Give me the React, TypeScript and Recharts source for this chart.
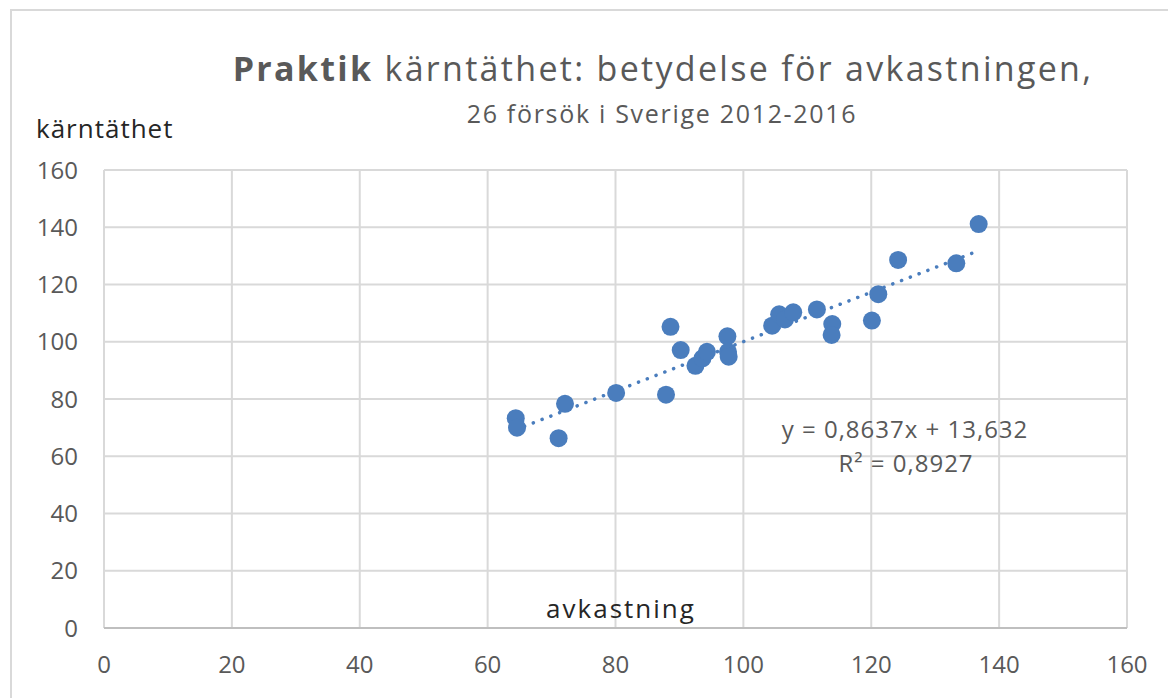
import { ScatterChart, Scatter, XAxis, YAxis, CartesianGrid, ReferenceLine } from 'recharts'

// avkastning (x) and kärntäthet (y) for the 26 trials
const avkastning = [64.4, 64.6, 71.1, 72.1, 80.1, 87.9, 88.6, 90.2, 92.5, 93.6, 94.3, 97.5, 97.6, 97.7, 104.5, 105.6, 106.5, 107.8, 111.5, 113.9, 113.8, 120.1, 121.1, 124.2, 133.3, 136.8]
const karntathet = [73.3, 70.0, 66.3, 78.3, 82.1, 81.5, 105.2, 97.1, 91.6, 94.2, 96.5, 101.9, 96.5, 94.8, 105.6, 109.6, 107.8, 110.3, 111.3, 106.2, 102.4, 107.4, 116.6, 128.6, 127.4, 141.1]

// linear trend endpoints (y = 0,8637x + 13,632)
const trendX = [64.4, 136.8]
const trendY = [69.3, 131.8]

const xTicks = [0, 20, 40, 60, 80, 100, 120, 140, 160]
const yTicks = [0, 20, 40, 60, 80, 100, 120, 140, 160]

const data = avkastning.map((x, i) => ({ x, y: karntathet[i] }))

const blue = '#4a7dbd'
const gray = '#595959'
const font = '"Open Sans", sans-serif'

const Dot = (p: any) => <circle cx={p.cx} cy={p.cy} r={9} fill={blue} />

const label = (extra: any) => ({ position: 'absolute', whiteSpace: 'nowrap', lineHeight: 1, ...extra }) as any

export default function App() {
  return (
    <div style={{ position: 'absolute', left: 0, top: 0, width: 1168, height: 698, background: '#fff', overflow: 'hidden', fontFamily: font }}>
      <div style={{ position: 'absolute', left: 10, top: 9, width: 1170, height: 700, border: '2px solid #d9d9d9' }} />
      <ScatterChart width={1168} height={698} margin={{ top: 170, right: 41, bottom: 0, left: 0 }}>
        <CartesianGrid stroke="#d9d9d9" strokeWidth={2} />
        <XAxis
          type="number"
          dataKey="x"
          domain={[0, 160]}
          ticks={xTicks}
          height={70}
          tickLine={false}
          tickSize={0}
          tickMargin={28}
          axisLine={{ stroke: '#bfbfbf', strokeWidth: 2 }}
          tick={{ fill: gray, fontSize: 24, fontFamily: font }}
        />
        <YAxis
          type="number"
          dataKey="y"
          domain={[0, 160]}
          ticks={yTicks}
          width={104}
          tickLine={false}
          tickSize={0}
          tickMargin={26}
          axisLine={false}
          tick={{ fill: gray, fontSize: 24, fontFamily: font }}
        />
        <ReferenceLine
          segment={[{ x: trendX[0], y: trendY[0] }, { x: trendX[1], y: trendY[1] }]}
          stroke={blue}
          strokeWidth={3.5}
          strokeDasharray="0.1 9.3"
          strokeLinecap="round"
        />
        <Scatter data={data} shape={Dot} isAnimationActive={false} />
      </ScatterChart>

      <div style={label({ left: 663, top: 51, transform: 'translateX(-50%)', fontSize: 34, letterSpacing: 2.3, color: gray })}>
        <b>Praktik</b> kärntäthet: betydelse för avkastningen,
      </div>
      <div style={label({ left: 662, top: 101, transform: 'translateX(-50%)', fontSize: 25, letterSpacing: 1.7, color: gray })}>
        26 försök i Sverige 2012-2016
      </div>
      <div style={label({ left: 36, top: 115, fontSize: 26, letterSpacing: 1, color: '#262626' })}>
        kärntäthet
      </div>
      <div style={label({ left: 621, top: 595, transform: 'translateX(-50%)', fontSize: 26, letterSpacing: 2, color: '#262626' })}>
        avkastning
      </div>
      <div style={label({ left: 905, top: 417, transform: 'translateX(-50%)', fontSize: 24, letterSpacing: 1, color: gray })}>
        y = 0,8637x + 13,632
      </div>
      <div style={label({ left: 906, top: 451, transform: 'translateX(-50%)', fontSize: 24, letterSpacing: 1, color: gray })}>
        R² = 0,8927
      </div>
    </div>
  )
}
